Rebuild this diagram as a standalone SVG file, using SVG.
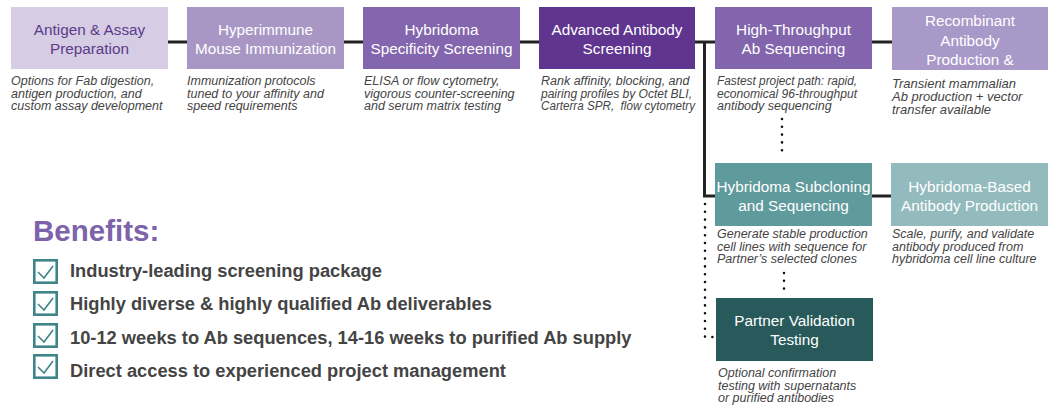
<svg xmlns="http://www.w3.org/2000/svg" width="1048" height="409" viewBox="0 0 1048 409">
<style>
.bt{font-family:"Liberation Sans",Arial,sans-serif;font-size:15.3px;fill:#fff;text-anchor:middle}
.cap{font-family:"Liberation Sans",Arial,sans-serif;font-size:12.5px;font-style:italic;fill:#444}
.ben{font-family:"Liberation Sans",Arial,sans-serif;font-size:18.3px;font-weight:bold;fill:#444}
.solid{stroke:#222;stroke-width:3;fill:none}
.dot{stroke:#111;stroke-width:2.6;fill:none;stroke-linecap:round;stroke-dasharray:0 7.8}
.chk{fill:#fff;stroke:#3f8588;stroke-width:2.6}
.tick{fill:none;stroke:#3f8588;stroke-width:1.6}
</style>
<rect width="1048" height="409" fill="#fff"/>
<g id="connectors">
<path class="solid" d="M168 42H187M344 42H363M520 42H539M695 42H715M872 42H892"/>
<path class="solid" d="M704.5 42V196H715M872 196H891"/>
<path class="dot" d="M782 119V158"/>
<path class="dot" d="M784 273V296"/>
<path class="dot" d="M705 204V337H716"/>
</g>
<g id="n1"><rect x="11" y="7" width="157" height="62" fill="#d6cce3"/>
<text class="bt" x="89.5" y="35" style="fill:#5b3b8c">Antigen &amp; Assay</text><text class="bt" x="89.5" y="54" style="fill:#5b3b8c">Preparation</text>
<text class="cap" x="11" y="85">Options for Fab digestion,</text><text class="cap" x="11" y="97.5">antigen production, and</text><text class="cap" x="11" y="110">custom assay development</text></g>
<g id="n2"><rect x="187" y="7" width="157" height="62" fill="#a897c5"/>
<text class="bt" x="265.5" y="35">Hyperimmune</text><text class="bt" x="265.5" y="54">Mouse Immunization</text>
<text class="cap" x="187" y="85">Immunization protocols</text><text class="cap" x="187" y="97.5">tuned to your affinity and</text><text class="cap" x="187" y="110">speed requirements</text></g>
<g id="n3"><rect x="363" y="7" width="157" height="62" fill="#8466ae"/>
<text class="bt" x="441.5" y="35">Hybridoma</text><text class="bt" x="441.5" y="54">Specificity Screening</text>
<text class="cap" x="364" y="85">ELISA or flow cytometry,</text><text class="cap" x="364" y="97.5">vigorous counter-screening</text><text class="cap" x="364" y="110">and serum matrix testing</text></g>
<g id="n4"><rect x="539" y="7" width="156" height="62" fill="#5f358f"/>
<text class="bt" x="617" y="35">Advanced Antibody</text><text class="bt" x="617" y="54">Screening</text>
<text class="cap" x="541" y="85">Rank affinity, blocking, and</text><text class="cap" x="541" y="97.5" textLength="151" lengthAdjust="spacingAndGlyphs">pairing profiles by Octet BLI,</text><text class="cap" x="541" y="110" xml:space="preserve" textLength="154" lengthAdjust="spacingAndGlyphs">Carterra SPR,  flow cytometry</text></g>
<g id="n5"><rect x="715" y="7" width="157" height="62" fill="#8265ad"/>
<text class="bt" x="793.5" y="35">High-Throughput</text><text class="bt" x="793.5" y="54">Ab Sequencing</text>
<text class="cap" x="717" y="85" textLength="140" lengthAdjust="spacingAndGlyphs">Fastest project path: rapid,</text><text class="cap" x="717" y="97.5" textLength="140" lengthAdjust="spacingAndGlyphs">economical 96-throughput</text><text class="cap" x="717" y="110">antibody sequencing</text></g>
<g id="n6"><rect x="892" y="7" width="156" height="63" fill="#a999c8"/>
<text class="bt" x="970" y="26">Recombinant</text><text class="bt" x="970" y="45.5">Antibody</text><text class="bt" x="970" y="65">Production &amp;</text>
<text class="cap" x="892" y="88" style="font-size:13px">Transient mammalian</text><text class="cap" x="892" y="101" style="font-size:13px">Ab production + vector</text><text class="cap" x="892" y="114" style="font-size:13px">transfer available</text></g>
<g id="n7"><rect x="715" y="163" width="157" height="63" fill="#5f9a9c"/>
<text class="bt" x="793.5" y="192">Hybridoma Subcloning</text><text class="bt" x="793.5" y="211">and Sequencing</text>
<text class="cap" x="717" y="238">Generate stable production</text><text class="cap" x="717" y="250.5">cell lines with sequence for</text><text class="cap" x="717" y="263">Partner’s selected clones</text></g>
<g id="n8"><rect x="891" y="163" width="157" height="63" fill="#93bbbe"/>
<text class="bt" x="969.5" y="192">Hybridoma-Based</text><text class="bt" x="969.5" y="211">Antibody Production</text>
<text class="cap" x="892" y="238">Scale, purify, and validate</text><text class="cap" x="892" y="250.5">antibody produced from</text><text class="cap" x="892" y="263">hybridoma cell line culture</text></g>
<g id="n9"><rect x="716" y="298" width="157" height="63" fill="#285a5b"/>
<text class="bt" x="794.5" y="326">Partner Validation</text><text class="bt" x="794.5" y="345">Testing</text>
<text class="cap" x="718" y="377">Optional confirmation</text><text class="cap" x="718" y="389.5">testing with supernatants</text><text class="cap" x="718" y="402">or purified antibodies</text></g>
<g id="benefits">
<text x="33" y="241" style="font-family:'Liberation Sans',Arial,sans-serif;font-size:29.5px;font-weight:bold;fill:#7d63a9">Benefits:</text>
<rect class="chk" x="34.3" y="260.3" width="22.4" height="22.4"/><path class="tick" d="M38 272L44 278L53 266"/>
<rect class="chk" x="34.3" y="292.3" width="22.4" height="22.4"/><path class="tick" d="M38 304L44 310L53 298"/>
<rect class="chk" x="34.3" y="324.3" width="22.4" height="22.4"/><path class="tick" d="M38 336L44 342L53 330"/>
<rect class="chk" x="34.3" y="355.3" width="22.4" height="22.4"/><path class="tick" d="M38 367L44 373L53 361"/>
<text class="ben" x="70" y="277">Industry-leading screening package</text>
<text class="ben" x="70" y="310">Highly diverse &amp; highly qualified Ab deliverables</text>
<text class="ben" x="70" y="344">10-12 weeks to Ab sequences, 14-16 weeks to purified Ab supply</text>
<text class="ben" x="70" y="377">Direct access to experienced project management</text>
</g>
</svg>
